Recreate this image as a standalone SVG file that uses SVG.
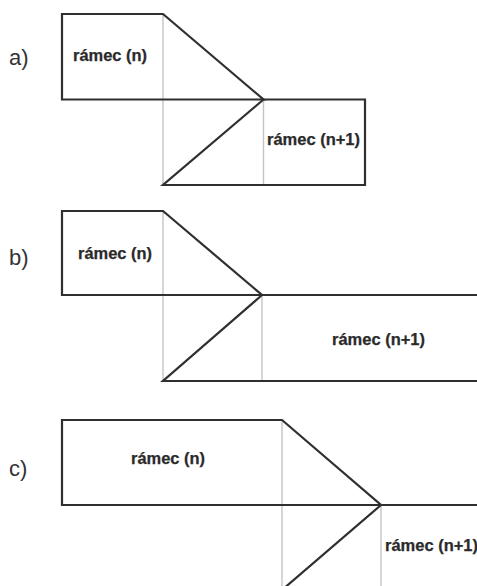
<svg xmlns="http://www.w3.org/2000/svg" width="477" height="586" viewBox="0 0 477 586">
  <style>
    .edge { fill: none; stroke: #2f2f2f; stroke-width: 2.2; stroke-linejoin: miter; }
    .split { fill: none; stroke: #c4c4c4; stroke-width: 1.4; }
    .tag { font-family: "Liberation Sans", Arial, sans-serif; font-size: 22px; fill: #333; }
    .lbl { font-family: "Liberation Sans", Arial, sans-serif; font-size: 16px; font-weight: bold; fill: #2a2a2a; stroke: #2a2a2a; stroke-width: 0.25; }
  </style>
  <rect width="477" height="586" fill="#fff"/>

  <!-- a) frames of equal length -->
  <g id="panel-a">
    <text class="tag" x="9" y="65">a)</text>
    <g id="a-splits">
      <line class="split" x1="163" y1="14" x2="163" y2="185"/>
      <line class="split" x1="263.5" y1="99.5" x2="263.5" y2="185"/>
    </g>
    <g id="a-frame-n">
      <path class="edge" d="M263.5,99.5 L62,99.5 L62,14 L163,14 Z"/>
      <text class="lbl" x="73" y="61" textLength="74" lengthAdjust="spacingAndGlyphs">rámec (n)</text>
    </g>
    <g id="a-frame-n1">
      <path class="edge" d="M263.5,99.5 L365,99.5 L365,185 L163,185 Z"/>
      <text class="lbl" x="267" y="145" textLength="93" lengthAdjust="spacingAndGlyphs">rámec (n+1)</text>
    </g>
  </g>

  <!-- b) next frame longer -->
  <g id="panel-b">
    <text class="tag" x="9" y="265">b)</text>
    <g id="b-splits">
      <line class="split" x1="163" y1="211" x2="163" y2="381"/>
      <line class="split" x1="262" y1="295" x2="262" y2="381"/>
    </g>
    <g id="b-frame-n">
      <path class="edge" d="M262,295 L62,295 L62,211 L163,211 Z"/>
      <text class="lbl" x="78" y="259" textLength="74" lengthAdjust="spacingAndGlyphs">rámec (n)</text>
    </g>
    <g id="b-frame-n1">
      <path class="edge" d="M480,295 L262,295 L163,381 L480,381"/>
      <text class="lbl" x="332" y="345" textLength="93" lengthAdjust="spacingAndGlyphs">rámec (n+1)</text>
    </g>
  </g>

  <!-- c) current frame longer -->
  <g id="panel-c">
    <text class="tag" x="9" y="476">c)</text>
    <g id="c-splits">
      <line class="split" x1="282" y1="420" x2="282" y2="590"/>
      <line class="split" x1="381" y1="505" x2="381" y2="590"/>
    </g>
    <g id="c-frame-n">
      <path class="edge" d="M381,505 L62,505 L62,420 L282,420 Z"/>
      <text class="lbl" x="131" y="464" textLength="74" lengthAdjust="spacingAndGlyphs">rámec (n)</text>
    </g>
    <g id="c-frame-n1">
      <path class="edge" d="M480,505 L381,505 L282,590"/>
      <text class="lbl" x="385" y="551" textLength="93" lengthAdjust="spacingAndGlyphs">rámec (n+1)</text>
    </g>
  </g>
</svg>
